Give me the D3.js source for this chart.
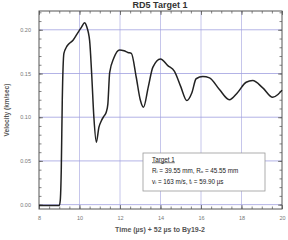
<!DOCTYPE html>
<html>
<head>
<meta charset="utf-8">
<script src="https://cdn.jsdelivr.net/npm/d3@7"></script>
<style>
  body { margin: 0; background: #fff; }
  text { font-family: "Liberation Sans", Arial, sans-serif; }
</style>
</head>
<body>
<div id="chart"></div>
<script>
// trace: time (us) and velocity (km/sec)
const timeUs = [8.0, 8.5, 9.0, 9.05, 9.1, 9.15, 9.23, 9.35, 9.48, 9.68, 9.9, 10.1, 10.25, 10.35, 10.5, 10.6, 10.71, 10.83, 10.96, 11.08, 11.2, 11.32, 11.4, 11.49, 11.7, 11.98, 12.2, 12.39, 12.56, 12.8, 13.0, 13.16, 13.4, 13.62, 14.0, 14.36, 14.69, 15.0, 15.3, 15.55, 15.76, 16.09, 16.42, 16.9, 17.4, 17.8, 18.23, 18.55, 19.05, 19.54, 19.8, 20.0];
const velocity = [-0.001, -0.001, -0.001, 0.005, 0.04, 0.12, 0.173, 0.18, 0.184, 0.188, 0.196, 0.203, 0.208, 0.204, 0.1876, 0.15, 0.10, 0.0715, 0.0886, 0.096, 0.101, 0.1057, 0.115, 0.151, 0.168, 0.177, 0.176, 0.174, 0.173, 0.146, 0.12, 0.1114, 0.135, 0.157, 0.1667, 0.159, 0.1525, 0.135, 0.119, 0.128, 0.144, 0.1465, 0.145, 0.132, 0.12, 0.128, 0.14, 0.1419, 0.1336, 0.1228, 0.126, 0.131];

const xTicks = [8, 10, 12, 14, 16, 18, 20];
const yTicks = [0.00, 0.05, 0.10, 0.15, 0.20];
const legendLines = ["Target 1", "R\u1D62 = 39.55 mm, R\u2092 = 45.55 mm", "v\u1D62 = 163 m/s, t\u1D62 = 59.90 \u00B5s"];

const width = 288, height = 240;
const margin = {top: 11, right: 6, bottom: 31, left: 39};

const svg = d3.select('#chart').append('svg')
  .attr('width', width)
  .attr('height', height);

const x = d3.scaleLinear().domain([8, 20]).range([margin.left, width - margin.right]);
const y = d3.scaleLinear().domain([-0.005, 0.2215]).range([height - margin.bottom, margin.top]);

// grid
svg.append('g').selectAll('line').data(xTicks.slice(1, -1)).join('line')
  .attr('x1', d => x(d)).attr('x2', d => x(d))
  .attr('y1', margin.top).attr('y2', height - margin.bottom)
  .attr('stroke', '#b8b8e6').attr('stroke-width', 0.8);
svg.append('g').selectAll('line').data(yTicks).join('line')
  .attr('x1', margin.left).attr('x2', width - margin.right)
  .attr('y1', d => y(d)).attr('y2', d => y(d))
  .attr('stroke', '#a0a0e0').attr('stroke-width', 0.8);

// axes with inward ticks on all four sides
const minorX = d3.range(8, 20.01, 0.5);
const minorY = d3.range(0, 0.221, 0.01);
const fmt = d3.format('.2f');

const axBottom = svg.append('g').attr('transform', `translate(0,${height - margin.bottom})`)
  .call(d3.axisBottom(x).tickValues(minorX).tickSize(-2.5).tickFormat(''));
axBottom.append('g').call(d3.axisBottom(x).tickValues(xTicks).tickSize(-4).tickPadding(7).tickFormat(d3.format('d')));
const axTop = svg.append('g').attr('transform', `translate(0,${margin.top})`)
  .call(d3.axisTop(x).tickValues(minorX).tickSize(-2.5).tickFormat(''));
axTop.append('g').call(d3.axisTop(x).tickValues(xTicks).tickSize(-4).tickFormat(''));

const axLeft = svg.append('g').attr('transform', `translate(${margin.left},0)`)
  .call(d3.axisLeft(y).tickValues(minorY).tickSize(-2.5).tickFormat(''));
axLeft.append('g').call(d3.axisLeft(y).tickValues(yTicks).tickSize(-4).tickPadding(8).tickFormat(fmt));
const axRight = svg.append('g').attr('transform', `translate(${width - margin.right},0)`)
  .call(d3.axisRight(y).tickValues(minorY).tickSize(-2.5).tickFormat(''));
axRight.append('g').call(d3.axisRight(y).tickValues(yTicks).tickSize(-4).tickFormat(''));

svg.selectAll('.domain').remove();
svg.selectAll('.tick line').attr('stroke', '#666').attr('stroke-width', 0.8);
svg.selectAll('.tick text').attr('font-size', 5.5).attr('fill', '#777');

svg.append('rect')
  .attr('x', margin.left).attr('y', margin.top)
  .attr('width', width - margin.left - margin.right)
  .attr('height', height - margin.top - margin.bottom)
  .attr('fill', 'none').attr('stroke', '#555').attr('stroke-width', 1);

// trace
const line = d3.line().x((d, i) => x(timeUs[i])).y(d => y(d)).curve(d3.curveMonotoneX);
svg.append('path')
  .datum(velocity)
  .attr('d', line)
  .attr('fill', 'none')
  .attr('stroke', '#222')
  .attr('stroke-width', 1.5);

// legend box
const lg = svg.append('g').attr('transform', 'translate(143,153)');
lg.append('rect').attr('width', 122).attr('height', 38)
  .attr('fill', '#fff').attr('stroke', '#999').attr('stroke-width', 0.8);
lg.selectAll('text').data(legendLines).join('text')
  .attr('x', 9).attr('y', (d, i) => 8.5 + i * 11)
  .attr('font-size', 6.3).attr('fill', '#222')
  .attr('text-decoration', (d, i) => i === 0 ? 'underline' : null)
  .text(d => d);

// titles
svg.append('text').attr('x', 160).attr('y', 8)
  .attr('text-anchor', 'middle').attr('font-size', 9).attr('font-weight', 'bold').attr('fill', '#333')
  .text('RD5 Target 1');
svg.append('text').attr('x', 160).attr('y', 232)
  .attr('text-anchor', 'middle').attr('font-size', 7).attr('font-weight', 'bold').attr('fill', '#555')
  .text('Time (\u00B5s) + 52 \u00B5s to By19-2');
svg.append('text').attr('transform', 'translate(9,110) rotate(-90)')
  .attr('text-anchor', 'middle').attr('font-size', 6.5).attr('font-weight', 'bold').attr('fill', '#555')
  .text('Velocity (km/sec)');
</script>
</body>
</html>
